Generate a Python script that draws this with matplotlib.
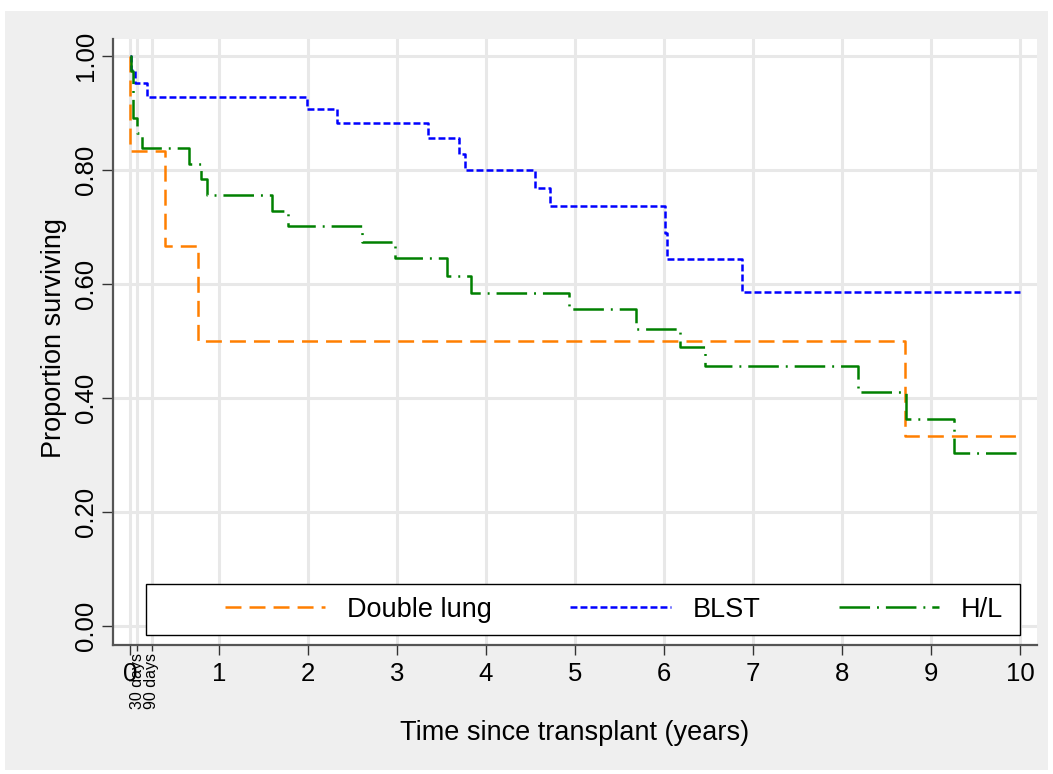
import matplotlib
matplotlib.use('Agg')
import matplotlib.pyplot as plt
from matplotlib.lines import Line2D
from matplotlib.patches import Rectangle

plt.rcParams['font.family'] = ['Liberation Sans', 'DejaVu Sans']
plt.rcParams['lines.scale_dashes'] = False

# Kaplan-Meier survival estimates (years, proportion surviving)
double_t = [0, 0.005, 0.39, 0.76, 8.71, 10]
double_s = [1.0, 0.8333, 0.6667, 0.5, 0.3333, 0.3333]

blst_t = [0, 0.01, 0.056, 0.19, 1.99, 2.33, 3.35, 3.70, 3.76, 4.55, 4.72,
          6.01, 6.03, 6.88, 10]
blst_s = [1.0, 0.976, 0.952, 0.929, 0.907, 0.882, 0.856, 0.828, 0.801,
          0.768, 0.737, 0.690, 0.644, 0.586, 0.586]

hl_t = [0, 0.01, 0.035, 0.08, 0.135, 0.66, 0.80, 0.865, 1.60, 1.78, 2.61,
        2.98, 3.56, 3.83, 4.93, 5.69, 6.18, 6.46, 8.18, 8.72, 9.26, 10]
hl_s = [1.0, 0.973, 0.892, 0.865, 0.838, 0.811, 0.784, 0.757, 0.729, 0.702,
        0.674, 0.645, 0.615, 0.585, 0.556, 0.522, 0.489, 0.456, 0.410, 0.364,
        0.304, 0.304]

groups = ['Double lung', 'BLST', 'H/L']
colors = ['#ff7f00', '#0000ff', '#008000']
dashes = [(11.5, 5.8), (5.0, 2.2), (22.0, 5.0, 1.4, 5.0)]

year_ticks = list(range(11))
early_ticks = [30 / 365, 90 / 365]
early_labels = ['30 days', '90 days']
y_ticks = [0, 0.2, 0.4, 0.6, 0.8, 1.0]
y_labels = ['0.00', '0.20', '0.40', '0.60', '0.80', '1.00']

W, H = 1053, 774
fig = plt.figure(figsize=(W / 100, H / 100), dpi=100, facecolor='white')
fig.patches.append(Rectangle((5 / W, 4 / H), 1043 / W, 759 / H,
                             transform=fig.transFigure, facecolor='#efefef',
                             edgecolor='none', zorder=-10))

ax = fig.add_axes([113 / W, 1 - 645 / H, 924 / W, 606 / H])
ax.set_facecolor('white')

series = [(double_t, double_s), (blst_t, blst_s), (hl_t, hl_s)]
for (t, s), c, d in zip(series, colors, dashes):
    ax.step(t, s, where='post', color=c, lw=1.8, dashes=d, zorder=3)

ax.set_xlim(-0.19, 10.19)
ax.set_ylim(-0.033, 1.03)

ax.set_xticks(year_ticks)
ax.set_xticks(early_ticks, labels=early_labels, minor=True)
ax.set_yticks(y_ticks, labels=y_labels)

ax.grid(True, which='both', color='#e8e8e8', lw=2.2, zorder=0)
ax.set_axisbelow(True)

for side in ['top', 'right']:
    ax.spines[side].set_visible(False)
for side in ['left', 'bottom']:
    ax.spines[side].set_color('#555555')
    ax.spines[side].set_linewidth(1.6)

ax.tick_params(axis='x', which='major', length=7.5, width=1, pad=5,
               labelsize=18.5, color='#333333')
ax.tick_params(axis='x', which='minor', length=4, width=1, pad=1.5,
               labelsize=11.5, labelrotation=90, color='#333333')
ax.tick_params(axis='y', length=8, width=1, pad=3, labelsize=18.5,
               labelrotation=90, color='#333333')
for lab in ax.get_yticklabels():
    lab.set_va('center')

# legend box along the bottom of the plot region
ax.add_patch(Rectangle((0.0357, 0.0165), 0.9459, 0.0842,
                       transform=ax.transAxes, facecolor='white',
                       edgecolor='black', lw=1.0, zorder=4))
handles = [Line2D([], [], color=c, lw=1.8, dashes=d)
           for c, d in zip(colors, dashes)]
leg = ax.legend(handles, groups, loc='center left',
                bbox_to_anchor=(0.121, 0.058), ncol=3, frameon=False,
                fontsize=19.5, handlelength=3.7, handletextpad=0.81,
                columnspacing=2.9, borderpad=0, borderaxespad=0)
leg.set_zorder(5)

fig.text(54 / W, 1 - 338 / H, 'Proportion surviving', rotation=90,
         ha='center', va='center', fontsize=19.5)
fig.text(575 / W, 1 - 733 / H, 'Time since transplant (years)',
         ha='center', va='center', fontsize=19.5)

fig.savefig('out.png', dpi=100, facecolor=fig.get_facecolor())
